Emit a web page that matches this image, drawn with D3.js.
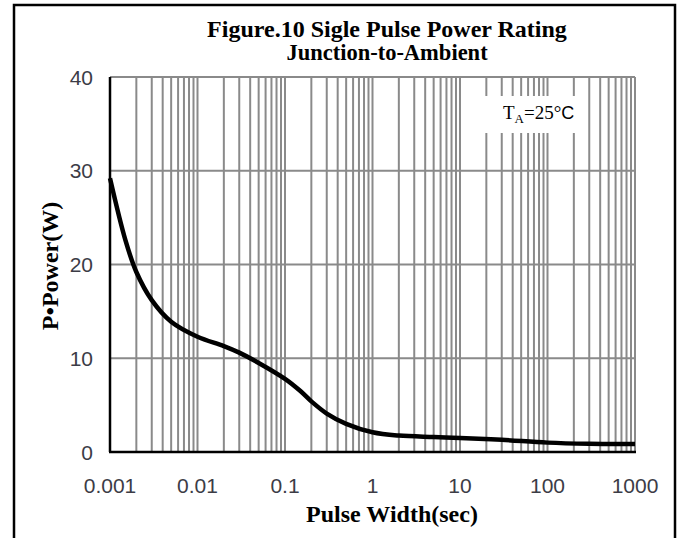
<!DOCTYPE html>
<meta charset="utf-8">
<script src="https://d3js.org/d3.v7.min.js"></script>
<title>Sigle Pulse Power Rating</title>
<style>
body { margin: 0; background: #fff; }
svg { display: block; }
.tick-label { font-family: Arial, "Liberation Sans", sans-serif; font-size: 21px; fill: #3c3c46; }
.title { font-family: "Times New Roman", "Liberation Serif", serif; font-weight: bold; fill: #000; }
</style>
<body>
<div id="vis"></div>
<script>

// values
var pulseWidth = [0.001, 0.0015, 0.002, 0.003, 0.005, 0.01, 0.02, 0.03, 0.05, 0.1,
                  0.15, 0.2, 0.3, 0.5, 1, 2, 5, 10, 30, 100, 300, 1000];
var power = [29.2, 22.6, 19.2, 16.2, 13.9, 12.3, 11.3, 10.6, 9.5, 7.8,
             6.5, 5.4, 4.1, 3.0, 2.1, 1.75, 1.6, 1.5, 1.3, 1.0, 0.88, 0.85];
var xTicks = [0.001, 0.01, 0.1, 1, 10, 100, 1000];
var xTickLabels = ["0.001", "0.01", "0.1", "1", "10", "100", "1000"];
var yTicks = [0, 10, 20, 30, 40];

var width = 684, height = 538;
var margin = {left: 110, right: 49, top: 77, bottom: 86};

var x = d3.scaleLog()
  .domain([0.001, 1000])
  .range([margin.left, width - margin.right]);

var y = d3.scaleLinear()
  .domain([0, 40])
  .range([height - margin.bottom, margin.top]);

var svg = d3.select("#vis").append("svg")
  .attr("width", width)
  .attr("height", height);

// outer frame
svg.append("rect")
  .attr("x", 14).attr("y", 5)
  .attr("width", 661).attr("height", 545)
  .attr("fill", "none")
  .attr("stroke", "#000")
  .attr("stroke-width", 2.5);

// minor + major vertical grid lines
var gridX = [];
for (var e = -3; e < 3; e++) {
  for (var k = 1; k < 10; k++) gridX.push(k * Math.pow(10, e));
}
gridX.push(1000);

svg.append("g")
  .selectAll("line")
  .data(gridX)
  .enter().append("line")
  .attr("x1", function(d) { return x(d); })
  .attr("x2", function(d) { return x(d); })
  .attr("y1", y(40))
  .attr("y2", y(0))
  .attr("stroke", "#8a8a8a")
  .attr("stroke-width", 2);

svg.append("g")
  .selectAll("line")
  .data(yTicks.slice(1))
  .enter().append("line")
  .attr("x1", x(0.001))
  .attr("x2", x(1000))
  .attr("y1", function(d) { return y(d); })
  .attr("y2", function(d) { return y(d); })
  .attr("stroke", "#8a8a8a")
  .attr("stroke-width", 2);

// axes lines
svg.append("line")
  .attr("x1", x(0.001)).attr("x2", x(0.001))
  .attr("y1", y(40)).attr("y2", y(0))
  .attr("stroke", "#000").attr("stroke-width", 2.5);
svg.append("line")
  .attr("x1", x(0.001) - 1).attr("x2", x(1000) + 1)
  .attr("y1", y(0)).attr("y2", y(0))
  .attr("stroke", "#000").attr("stroke-width", 2.5);

// tick labels
svg.append("g")
  .selectAll("text")
  .data(yTicks)
  .enter().append("text")
  .attr("class", "tick-label")
  .attr("x", 93)
  .attr("y", function(d) { return y(d); })
  .attr("dy", "0.36em")
  .attr("text-anchor", "end")
  .text(function(d) { return d; });

svg.append("g")
  .selectAll("text")
  .data(xTicks)
  .enter().append("text")
  .attr("class", "tick-label")
  .attr("x", function(d) { return x(d); })
  .attr("y", 493)
  .attr("text-anchor", "middle")
  .text(function(d, i) { return xTickLabels[i]; });

// curve
var line = d3.line()
  .x(function(d) { return x(d[0]); })
  .y(function(d) { return y(d[1]); })
  .curve(d3.curveCatmullRom.alpha(0.5));

svg.append("path")
  .datum(d3.zip(pulseWidth, power))
  .attr("d", line)
  .attr("fill", "none")
  .attr("stroke", "#000")
  .attr("stroke-width", 4.5)
  .attr("stroke-linejoin", "round");

// annotation box
svg.append("rect")
  .attr("x", 480).attr("y", 96)
  .attr("width", 108).attr("height", 37)
  .attr("fill", "#fff");

var ann = svg.append("text")
  .attr("x", 503).attr("y", 119)
  .style("font-family", "'Times New Roman', 'Liberation Serif', serif")
  .style("font-size", "19px");
ann.append("tspan").text("T");
ann.append("tspan").attr("dy", 4).style("font-size", "13px").text("A");
ann.append("tspan").attr("dy", -4).text("=25\u00b0");
ann.append("tspan")
  .style("font-family", "Arial, 'Liberation Sans', sans-serif")
  .style("font-size", "18px")
  .text("C");

// titles
svg.append("text")
  .attr("class", "title")
  .attr("x", 387).attr("y", 37)
  .attr("text-anchor", "middle")
  .style("font-size", "24px")
  .text("Figure.10 Sigle Pulse Power Rating");

svg.append("text")
  .attr("class", "title")
  .attr("x", 387).attr("y", 60)
  .attr("text-anchor", "middle")
  .style("font-size", "22.5px")
  .text("Junction-to-Ambient");

svg.append("text")
  .attr("class", "title")
  .attr("x", 392).attr("y", 522)
  .attr("text-anchor", "middle")
  .style("font-size", "24px")
  .text("Pulse Width(sec)");

svg.append("text")
  .attr("class", "title")
  .attr("transform", "translate(58,266) rotate(-90)")
  .attr("text-anchor", "middle")
  .style("font-size", "24px")
  .text("P\u2022Power(W)");

</script>
</body>
